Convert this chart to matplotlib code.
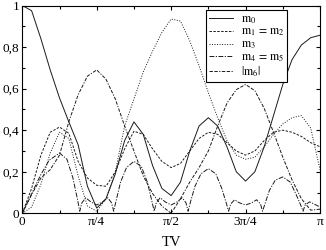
import numpy as np
import matplotlib
matplotlib.use('Agg')
import matplotlib.pyplot as plt

plt.rcParams['font.family'] = ['Liberation Serif', 'DejaVu Serif']
plt.rcParams['mathtext.fontset'] = 'stix'

# sample grid in units of pi (steps of pi/32)
t_grid = np.linspace(0, 1, 33)

m0 = [1.0, 0.975, 0.84, 0.69, 0.555, 0.44, 0.33, 0.13, 0.025, 0.07, 0.19, 0.35, 0.44,
      0.38, 0.23, 0.12, 0.085, 0.15, 0.30, 0.42, 0.46, 0.42, 0.32, 0.20, 0.155, 0.20,
      0.32, 0.47, 0.62, 0.74, 0.81, 0.845, 0.857]
m12 = [0.0, 0.12, 0.28, 0.39, 0.415, 0.385, 0.25, 0.17, 0.135, 0.13, 0.20, 0.31, 0.395,
       0.38, 0.31, 0.25, 0.22, 0.24, 0.30, 0.36, 0.39, 0.38, 0.34, 0.30, 0.28, 0.30,
       0.35, 0.39, 0.40, 0.39, 0.37, 0.34, 0.32]
m3 = [0.0, 0.03, 0.14, 0.29, 0.39, 0.36, 0.18, 0.035, 0.01, 0.07, 0.20, 0.42, 0.55,
      0.68, 0.78, 0.87, 0.935, 0.925, 0.83, 0.71, 0.58, 0.46, 0.35, 0.28, 0.26, 0.27,
      0.32, 0.38, 0.43, 0.46, 0.47, 0.41, 0.21]
m6 = [0.0, 0.09, 0.17, 0.21, 0.28, 0.44, 0.57, 0.66, 0.69, 0.645, 0.55, 0.42, 0.30,
      0.18, 0.095, 0.035, 0.0, 0.07, 0.15, 0.22, 0.30, 0.42, 0.53, 0.595, 0.62, 0.59,
      0.505, 0.39, 0.27, 0.16, 0.07, 0.015, 0.02]

# m4 = m5 has its own sample points (sharp dips)
t45 = [0, 0.03, 0.06, 0.09, 0.125, 0.15, 0.17, 0.185, 0.193, 0.2, 0.213, 0.23, 0.25,
       0.27, 0.287, 0.30, 0.307, 0.315, 0.33, 0.35, 0.375, 0.4, 0.42, 0.435, 0.443,
       0.45, 0.463, 0.48, 0.5, 0.52, 0.537, 0.55, 0.557, 0.565, 0.58, 0.60, 0.625,
       0.65, 0.67, 0.685, 0.693, 0.70, 0.713, 0.73, 0.75, 0.77, 0.787, 0.80, 0.807,
       0.815, 0.83, 0.85, 0.875, 0.90, 0.92, 0.935, 0.943, 0.95, 0.965, 0.98, 1.0]
m45 = [0.0, 0.09, 0.18, 0.255, 0.29, 0.26, 0.17, 0.07, 0.01, 0.05, 0.075, 0.055, 0.04,
       0.055, 0.075, 0.05, 0.01, 0.06, 0.15, 0.22, 0.25, 0.225, 0.15, 0.06, 0.01,
       0.05, 0.075, 0.055, 0.04, 0.055, 0.075, 0.05, 0.01, 0.055, 0.13, 0.19, 0.215,
       0.19, 0.12, 0.05, 0.01, 0.045, 0.065, 0.05, 0.04, 0.05, 0.065, 0.045, 0.01,
       0.045, 0.11, 0.16, 0.175, 0.15, 0.09, 0.04, 0.01, 0.04, 0.055, 0.045, 0.03]

xticks = [0, np.pi/4, np.pi/2, 3*np.pi/4, np.pi]
xticklabels = ['0', 'π/4', 'π/2', '3π/4', 'π']
yticks = [0, 0.2, 0.4, 0.6, 0.8, 1.0]
yticklabels = ['0', '0,2', '0,4', '0,6', '0,8', '1']

fig = plt.figure(figsize=(3.26, 2.5), dpi=100)
ax = fig.add_axes([0.0684, 0.1468, 0.9132, 0.8312])

lw = 0.7
col = '#1a1a1a'
x = t_grid * np.pi
ax.plot(x, m0, color=col, lw=lw, label=r'$\mathrm{m}_0$')
ax.plot(x, m12, color=col, lw=lw, dashes=(2.5, 1.5), label=r'$\mathrm{m}_1\,=\,\mathrm{m}_2$')
ax.plot(x, m3, color=col, lw=lw, dashes=(1, 1.6), label=r'$\mathrm{m}_3$')
ax.plot(np.array(t45) * np.pi, m45, color=col, lw=lw, dashes=(5, 1.5, 1.2, 1.5),
        label=r'$\mathrm{m}_4\,=\,\mathrm{m}_5$')
ax.plot(x, m6, color=col, lw=lw, dashes=(3.5, 1.5, 3.5, 1.5, 1.2, 1.5),
        label=r'$|\mathrm{m}_6|$')

ax.set_xlim(0, np.pi)
ax.set_ylim(0, 1)
ax.set_xticks(xticks)
ax.set_xticklabels(xticklabels)
ax.set_xticks(np.arange(1, 8, 2) * np.pi / 8, minor=True)
ax.set_yticks(yticks)
ax.set_yticklabels(yticklabels)
ax.set_yticks([0.1, 0.3, 0.5, 0.7, 0.9], minor=True)
ax.tick_params(which='both', direction='in', top=True, right=True, width=0.8,
               labelsize=9.5, pad=2)
ax.tick_params(which='major', length=3)
ax.tick_params(which='minor', length=2)
for s in ax.spines.values():
    s.set_linewidth(0.8)
ax.set_xlabel('TV', fontsize=10.5, labelpad=5.5)

leg = ax.legend(loc='upper left', bbox_to_anchor=(0.617, 0.977), borderaxespad=0,
                fontsize=8.5, frameon=True, fancybox=False, framealpha=1,
                edgecolor='black', handlelength=2.0, handletextpad=0.7,
                labelspacing=0.02, borderpad=0.25)
leg.get_frame().set_linewidth(0.8)

fig.savefig('out.png', dpi=100)
